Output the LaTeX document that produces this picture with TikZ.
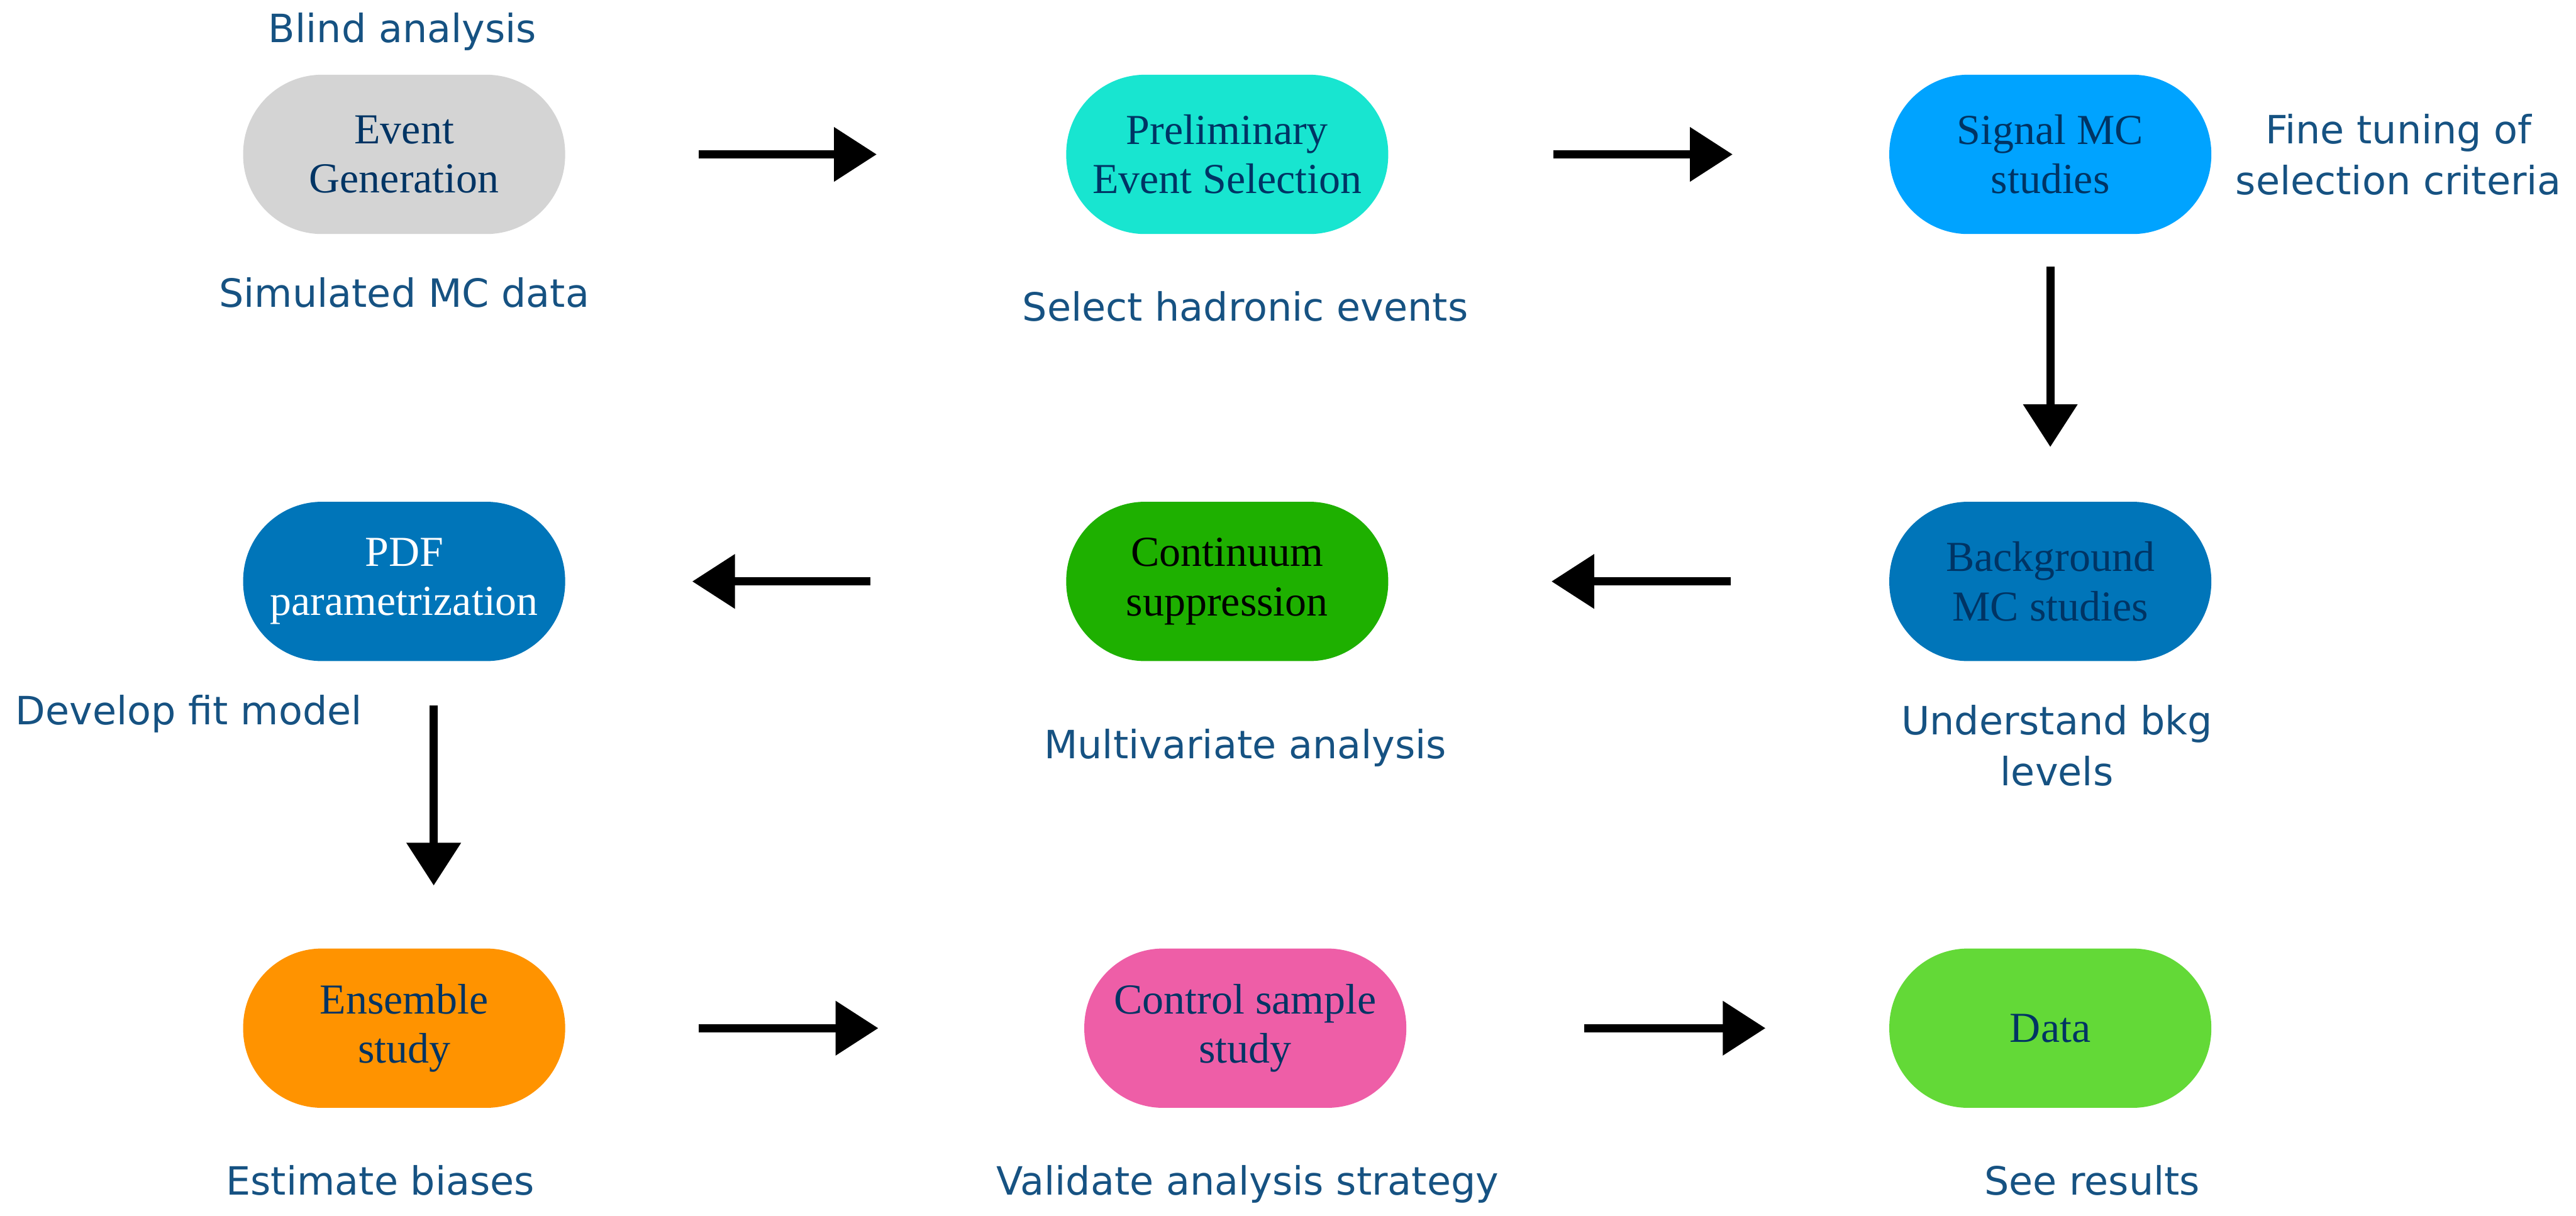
\documentclass[tikz,border=0pt]{standalone}
\usepackage{fontspec}
\setmainfont{Liberation Serif}
\newfontfamily\notefont{DejaVu Sans}
\usetikzlibrary{arrows.meta}
\definecolor{stagetext}{RGB}{0,52,100}
\definecolor{notetext}{RGB}{22,82,130}
\definecolor{gengray}{RGB}{212,212,212}
\definecolor{seltq}{RGB}{24,229,208}
\definecolor{sigblue}{RGB}{0,163,255}
\definecolor{bkgblue}{RGB}{0,117,185}
\definecolor{contgreen}{RGB}{30,176,0}
\definecolor{ensorange}{RGB}{255,147,0}
\definecolor{ctlpink}{RGB}{238,94,167}
\definecolor{datagreen}{RGB}{99,217,55}
\tikzset{
    stage/.style={rectangle, rounded corners=9.6mm, minimum width=39.2mm, minimum height=19.4mm,
        inner sep=0pt, align=center, text=stagetext, font=\fontsize{14.8}{17}\selectfont},
    note/.style={text=notetext, align=center, font=\notefont\fontsize{13.5}{17.6}\selectfont},
    flow/.style={line width=1mm, -{Triangle[length=5.2mm,width=6.4mm]}}
}
\begin{document}
\begin{tikzpicture}[x=0.2mm, y=-0.2mm]
    \useasboundingbox (0,0) rectangle (1568,740);
    \node[stage, fill=gengray] (gen) at (246,94) {Event\\Generation};
    \node[stage, fill=seltq] (presel) at (747,94) {Preliminary\\Event Selection};
    \node[stage, fill=sigblue] (sigmc) at (1248,94) {Signal MC\\studies};
    \node[stage, fill=bkgblue] (bkgmc) at (1248,354) {Background\\MC studies};
    \node[stage, fill=contgreen, text=black] (contsup) at (747,354) {Continuum\\suppression};
    \node[stage, fill=bkgblue, text=white] (pdfpar) at (246,354) {PDF\\parametrization};
    \node[stage, fill=ensorange] (ensemble) at (246,626) {Ensemble\\study};
    \node[stage, fill=ctlpink] (ctlsample) at (758,626) {Control sample\\study};
    \node[stage, fill=datagreen] (data) at (1248,626) {Data};
    \draw[flow, shorten <=16.2mm, shorten >=23mm] (gen.east) -- (presel.west);
    \draw[flow, shorten <=20mm, shorten >=19mm] (presel.east) -- (sigmc.west);
    \draw[flow, shorten <=3.9mm, shorten >=6.6mm] (sigmc.south) -- (bkgmc.north);
    \draw[flow, shorten <=19.2mm, shorten >=19.8mm] (bkgmc.west) -- (contsup.east);
    \draw[flow, shorten <=23.8mm, shorten >=15.4mm] (contsup.west) -- (pdfpar.east);
    \draw[flow, shorten <=5.3mm, shorten >=7.6mm] ([xshift=3.6mm]pdfpar.south) -- ([xshift=3.6mm]ensemble.north);
    \draw[flow, shorten <=16.2mm, shorten >=25mm] (ensemble.east) -- (ctlsample.west);
    \draw[flow, shorten <=21.6mm, shorten >=15mm] (ctlsample.east) -- (data.west);
    \node[note, anchor=base] (blind) at (245,26) {Blind analysis};
    \node[note, anchor=base] (simmc) at (246,187) {Simulated MC data};
    \node[note, anchor=base] (hadsel) at (758,195.5) {Select hadronic events};
    \node[note] (finetune) at (1460,94) {Fine tuning of\\selection criteria};
    \node[note] (bkglev) at (1252,454) {Understand bkg\\levels};
    \node[note, anchor=base] (fitmod) at (115,441) {Develop fit model};
    \node[note, anchor=base] (mva) at (758,462) {Multivariate analysis};
    \node[note, anchor=base] (bias) at (231.5,727.6) {Estimate biases};
    \node[note, anchor=base] (valid) at (759.5,727.6) {Validate analysis strategy};
    \node[note, anchor=base] (results) at (1273.5,727.6) {See results};
\end{tikzpicture}
\end{document}
